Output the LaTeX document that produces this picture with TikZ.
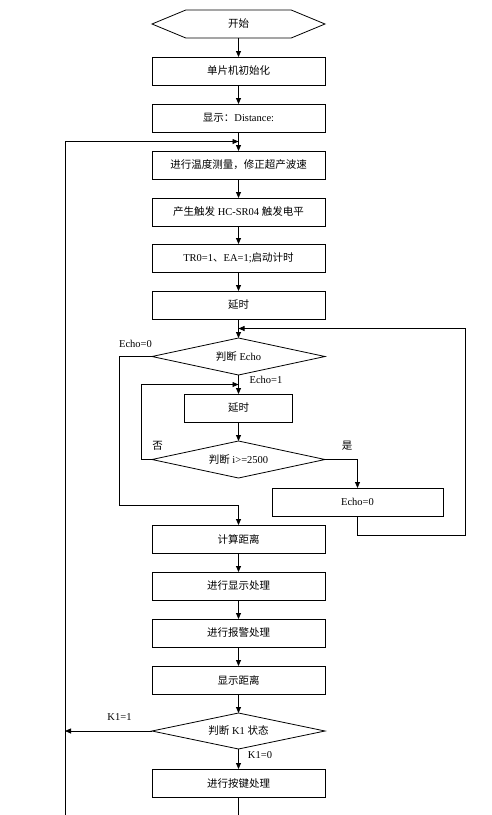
\documentclass[tikz,border=0pt]{standalone}
\usepackage{fontspec}
\setmainfont{Liberation Serif}
\newfontfamily\cjk{Noto Sans CJK SC}
\usepackage{tikz}
\usetikzlibrary{shapes.geometric, shapes.symbols, arrows.meta, positioning, calc}

\begin{document}
\begin{tikzpicture}[
    x=1pt, y=-1pt,
    node distance=19pt,
    >={Triangle[length=6pt,width=5pt]},
    font=\fontsize{10.5}{12}\selectfont,
    % Styles
    startbox/.style={signal, signal to=west and east, signal pointer angle=45, draw, line width=0.8pt, minimum width=173pt, minimum height=28pt, inner sep=0pt, outer sep=0pt},
    procbox/.style={rectangle, draw, line width=0.8pt, minimum width=#1, minimum height=28pt, inner sep=2pt, outer sep=0pt, align=center},
    procbox/.default=173pt,
    decide/.style={diamond, draw, line width=0.8pt, aspect=4.7, minimum width=173pt, minimum height=#1, inner sep=0pt, outer sep=0pt},
    decide/.default=37pt,
    arrow/.style={->, line width=0.8pt},
    line/.style={line width=0.8pt},
    cond/.style={inner sep=0pt},
]
\useasboundingbox (0,0) rectangle (491,815);

% ── Init chain ──
\node[startbox] (start) at (238.5,24) {{\cjk 开始}};
\node[procbox, below=of start] (init) {{\cjk 单片机初始化}};
\node[procbox, below=of init] (show) {{\cjk 显示：}Distance:};
\node[procbox, below=of show] (temp) {{\cjk 进行温度测量，修正超产波速}};
\node[procbox, below=of temp] (trig) {{\cjk 产生触发} HC-SR04 {\cjk 触发电平}};
\node[procbox, below=18pt of trig] (timer) {TR0=1{\cjk 、}EA=1;{\cjk 启动计时}};
\node[procbox, below=of timer] (wait) {{\cjk 延时}};

\draw[arrow] (start) -- (init);
\draw[arrow] (init) -- (show);
\draw[arrow] (show) -- (temp);
\draw[arrow] (temp) -- (trig);
\draw[arrow] (trig) -- (timer);
\draw[arrow] (timer) -- (wait);

% ── Echo loop ──
\node[decide, below=of wait] (echo) {{\cjk 判断} Echo};
\node[procbox=108pt, below=of echo] (delay) {{\cjk 延时}};
\node[decide, below=of delay] (count) {{\cjk 判断} i>=2500};
\node[procbox=171pt] (clear) at (357.5,502) {Echo=0};

\coordinate (ret) at ($(wait.south)!0.5!(echo.north)$);
\coordinate (join) at ($(echo.south)!0.5!(delay.north)$);

\draw[arrow] (wait) -- (echo);
\draw[arrow] (echo) -- (delay);
\draw[arrow] (delay) -- (count);
\draw[arrow] (count.west) -- ++(-11,0) |- (join);
\draw[arrow] (count.east) -| (clear.north);
\draw[arrow] (clear.south) |- ++(108,19) |- (ret);

\node[cond] at (135.5,344) {Echo=0};
\node[cond] at (266,380) {Echo=1};
\node[cond] at (157.5,446) {{\cjk 否}};
\node[cond] at (347,446) {{\cjk 是}};

% ── Output chain ──
\node[procbox, below=47pt of count] (calc) {{\cjk 计算距离}};
\node[procbox, below=of calc] (disp) {{\cjk 进行显示处理}};
\node[procbox, below=of disp] (alarm) {{\cjk 进行报警处理}};
\node[procbox, below=of alarm] (dist) {{\cjk 显示距离}};
\node[decide=36pt, below=of dist] (key) {{\cjk 判断} K1 {\cjk 状态}};
\node[procbox, below=20pt of key] (keyproc) {{\cjk 进行按键处理}};

\draw[arrow] (echo.west) -- ++(-33,0) |- ++(119.5,149) -- (calc.north);
\draw[arrow] (calc) -- (disp);
\draw[arrow] (disp) -- (alarm);
\draw[arrow] (alarm) -- (dist);
\draw[arrow] (dist) -- (key);
\draw[arrow] (key) -- (keyproc);

\node[cond] at (119.5,717) {K1=1};
\node[cond] at (260,755) {K1=0};

% ── Main loop back ──
\coordinate (loopin) at ($(show.south)!0.5!(temp.north)$);
\coordinate (loopbot) at (65,815);
\draw[arrow] (key.west) -- (key.west -| loopbot);
\draw[arrow] (loopbot) |- (loopin);
\draw[line] (keyproc.south) -- (keyproc.south |- loopbot);

\end{tikzpicture}
\end{document}
